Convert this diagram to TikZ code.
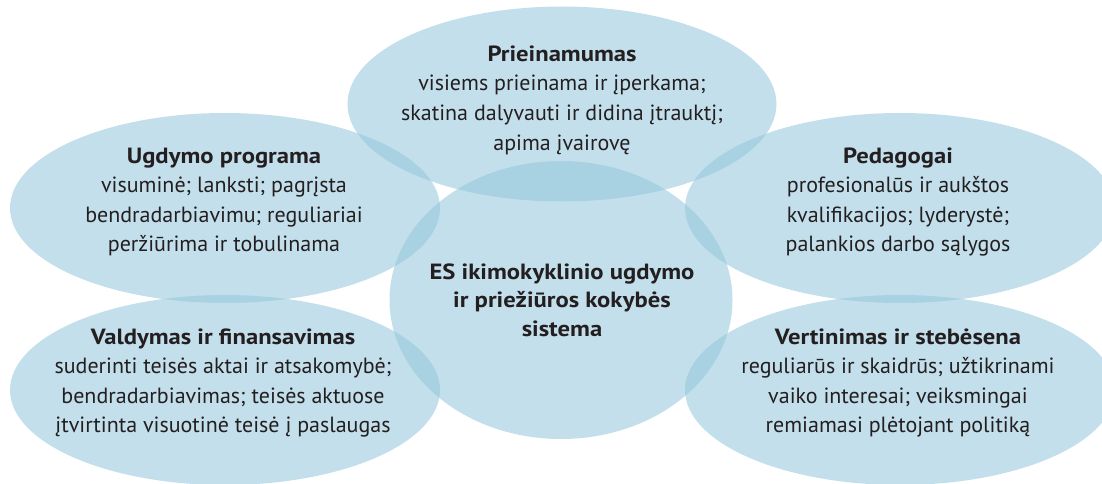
\documentclass[tikz,border=0pt]{standalone}
\usepackage{fontspec}
\setmainfont{PT Sans}
\newfontfamily\titlefont[FakeStretch=1.12]{PT Sans Bold}
\usetikzlibrary{shapes.geometric}
\definecolor{blobfill}{RGB}{146,197,219}
\definecolor{ink}{RGB}{35,31,32}
\newcommand{\ttl}[1]{{\titlefont #1}}
\begin{document}
\begin{tikzpicture}[x=1pt,y=-1pt,
  blobshape/.style={ellipse, fill=blobfill, fill opacity=0.55, draw=none, inner sep=0pt},
  side/.style={blobshape, minimum width=430pt, minimum height=190pt},
  txt/.style={align=center, text=ink, inner sep=0pt, font=\fontsize{22}{29.6}\selectfont}]
\useasboundingbox (0,0) rectangle (1102,484);
% ellipses
\node[blobshape, minimum width=429pt, minimum height=195pt] (top) at (562,104) {};
\node[side] (ul) at (225,208) {};
\node[side] (ll) at (225,390) {};
\node[side] (ur) at (900,208) {};
\node[side] (lr) at (900,390) {};
\node[blobshape, minimum width=343pt, minimum height=278pt] (mid) at (561,300) {};
% texts
\node[txt] (ttop) at (562,100) {\ttl{Prieinamumas}\\visiems prieinama ir įperkama;\\skatina dalyvauti ir didina įtrauktį;\\apima įvairovę};
\node[txt] (tul) at (224,202) {\ttl{Ugdymo programa}\\visuminė; lanksti; pagrįsta\\bendradarbiavimu; reguliariai\\peržiūrima ir tobulinama};
\node[txt] (tur) at (898,202) {\ttl{Pedagogai}\\profesionalūs ir aukštos\\kvalifikacijos; lyderystė;\\palankios darbo sąlygos};
\node[txt] (tll) at (223,383) {\ttl{Valdymas ir finansavimas}\\suderinti teisės aktai ir atsakomybė;\\bendradarbiavimas; teisės aktuose\\įtvirtinta visuotinė teisė į paslaugas};
\node[txt] (tlr) at (898,383) {\ttl{Vertinimas ir stebėsena}\\reguliarūs ir skaidrūs; užtikrinami\\vaiko interesai; veiksmingai\\remiamasi plėtojant politiką};
\node[txt, font=\fontsize{22}{28.3}\selectfont\titlefont] (tmid) at (562,300) {ES ikimokyklinio ugdymo\\ir priežiūros kokybės\\sistema};
\end{tikzpicture}
\end{document}
